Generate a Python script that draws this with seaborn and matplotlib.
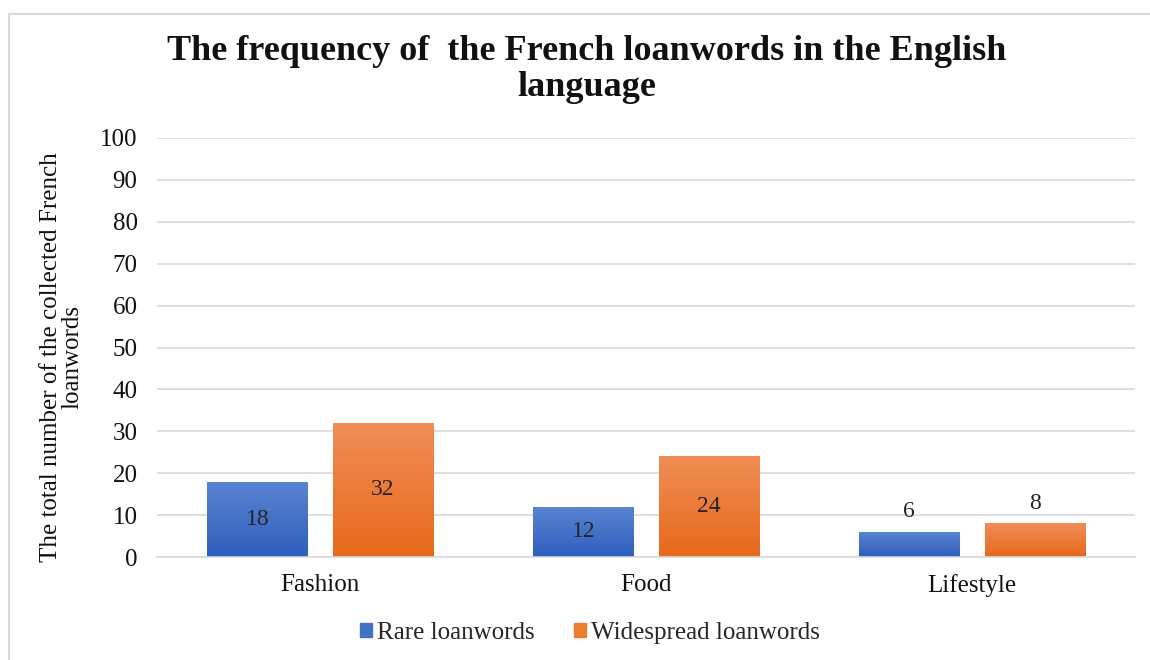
import seaborn as sns
import matplotlib.pyplot as plt
import matplotlib.patches as mpatches
import pandas as pd
import numpy as np
from matplotlib.colors import LinearSegmentedColormap

# Data
categories = ["Fashion", "Food", "Lifestyle"]
rare = [18, 12, 6]
widespread = [32, 24, 8]
series_names = ["Rare loanwords", "Widespread loanwords"]

df = pd.DataFrame({
    "category": categories * 2,
    "value": rare + widespread,
    "type": [series_names[0]] * 3 + [series_names[1]] * 3,
})

sns.set_style("white")
plt.rcParams['font.family'] = ['Liberation Serif', 'DejaVu Serif']

fig = plt.figure(figsize=(11.5, 6.6), dpi=100)
ax = fig.add_axes([157 / 1150, 1 - 557 / 660, 978 / 1150, 419 / 660])

palette = {series_names[0]: "#4472C4", series_names[1]: "#ED7D31"}
sns.barplot(data=df, x="category", y="value", hue="type", palette=palette,
            width=0.77, gap=0.2, ax=ax, legend=True)

# gradient fill (lighter top, darker bottom) like the original
grads = {series_names[0]: ("#5B84D2", "#2F5EBD"), series_names[1]: ("#F08D55", "#E7691B")}
for cont, name in zip(ax.containers, series_names):
    cmap = LinearSegmentedColormap.from_list("g", [grads[name][1], grads[name][0]])
    for bar in cont:
        x0, y0 = bar.get_x(), bar.get_y()
        w, h = bar.get_width(), bar.get_height()
        img = ax.imshow(np.linspace(0, 1, 50).reshape(-1, 1), cmap=cmap, aspect="auto",
                        extent=[x0, x0 + w, y0, y0 + h], origin="lower", zorder=bar.get_zorder() + 0.1)
        img.set_clip_path(bar)
        bar.set_edgecolor("none")
    labels_in = [str(int(b.get_height())) if b.get_height() >= 10 else "" for b in cont]
    labels_out = [str(int(b.get_height())) if b.get_height() < 10 else "" for b in cont]
    ax.bar_label(cont, labels=labels_in, label_type="center", fontsize=17, zorder=5)
    ax.bar_label(cont, labels=labels_out, label_type="edge", padding=7, fontsize=17, zorder=5)

ax.set_xlim(-0.5, 2.5)
ax.set_ylim(0, 100)
ax.set_yticks(range(0, 101, 10))
ax.yaxis.grid(True, color="#D9D9D9", linewidth=1.2)
ax.set_axisbelow(True)
for s in ["top", "right", "left"]:
    ax.spines[s].set_visible(False)
ax.spines["bottom"].set_color("#D9D9D9")
ax.spines["bottom"].set_linewidth(1.2)
ax.tick_params(axis="both", length=0, labelsize=18, labelcolor="#111111")
ax.tick_params(axis="y", pad=14)
ax.tick_params(axis="x", pad=12)
ax.set_xlabel("")
ax.set_ylabel("The total number of the collected French\nloanwords", fontsize=18,
              linespacing=0.95, color="#111111")
ax.yaxis.set_label_coords(-0.075, 0.478)

fig.text(0.51, 1 - 69 / 660, "The frequency of  the French loanwords in the English\nlanguage",
         ha="center", va="center", fontsize=26, fontweight="bold", linespacing=1.12,
         color="#111111")

ax.legend_.remove()
handles = [mpatches.Patch(color=palette[n]) for n in series_names]
fig.legend(handles, series_names, loc="center", bbox_to_anchor=(0.513, 1 - 633 / 660), ncol=2,
           frameon=False, fontsize=18, handlelength=0.45, handleheight=0.45, handletextpad=0.2,
           columnspacing=1.6)

fig.patches.append(mpatches.Rectangle((9 / 1150, -0.05), 1.1, 1 - 14 / 660 + 0.05,
                                      transform=fig.transFigure, fill=False,
                                      edgecolor="#D9D9D9", linewidth=1.5))

fig.savefig("out.png", dpi=100)
